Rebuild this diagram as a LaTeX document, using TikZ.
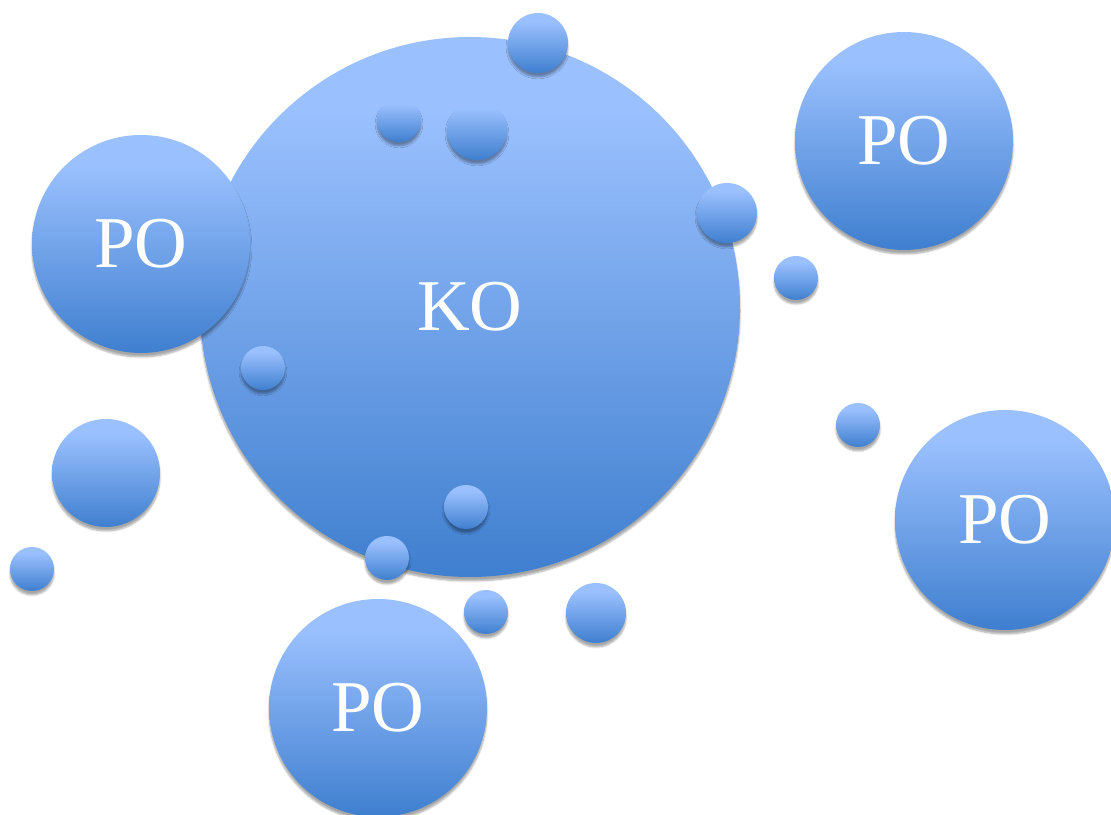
\documentclass[tikz,border=0pt]{standalone}
\usepackage{fontspec}
\setmainfont{Liberation Serif}
\usetikzlibrary{shadows.blur}
\definecolor{bTop}{HTML}{9AC0FE}
\definecolor{bBot}{HTML}{3F7FCF}
\pgfdeclareverticalshading{bubshade}{100bp}{color(0bp)=(bBot); color(25bp)=(bBot); color(68bp)=(bTop); color(100bp)=(bTop)}
\tikzset{
  bubble/.style={circle, inner sep=0pt, outer sep=0pt, shading=bubshade, shading angle=0,
    draw=none, text=white, font=\fontsize{73}{76}\selectfont,
    blur shadow={shadow xshift=0pt, shadow yshift=-4pt, shadow blur steps=6, shadow opacity=35}},
}
\begin{document}
\begin{tikzpicture}[x=1pt,y=1pt]
\useasboundingbox (0,0) rectangle (1111,814);
% main circles
\node[bubble, minimum size=540] (ko) at (470,507) {KO};
\node[bubble, minimum size=218] (poTL) at (141,570) {PO};
\node[bubble, minimum size=218] (poTR) at (904,673) {PO};
\node[bubble, minimum size=220] (poR) at (1005,294) {PO};
\node[bubble, minimum size=218] (poB) at (378,106) {PO};
% small circles
\node[bubble, minimum size=60] (s1) at (538,771) {};
\node[bubble, minimum size=44] (s2) at (399,694) {};
\node[bubble, minimum size=60] (s3) at (477,684) {};
\node[bubble, minimum size=60] (s4) at (727,601) {};
\node[bubble, minimum size=44] (s5) at (796,536) {};
\node[bubble, minimum size=44] (s6) at (858,389) {};
\node[bubble, minimum size=44] (s7) at (263,446) {};
\node[bubble, minimum size=108] (s8) at (106,341) {};
\node[bubble, minimum size=44] (s9) at (32,245) {};
\node[bubble, minimum size=44] (s10) at (466,307) {};
\node[bubble, minimum size=44] (s11) at (387,256) {};
\node[bubble, minimum size=44] (s12) at (486,202) {};
\node[bubble, minimum size=60] (s13) at (596,201) {};
\end{tikzpicture}
\end{document}
